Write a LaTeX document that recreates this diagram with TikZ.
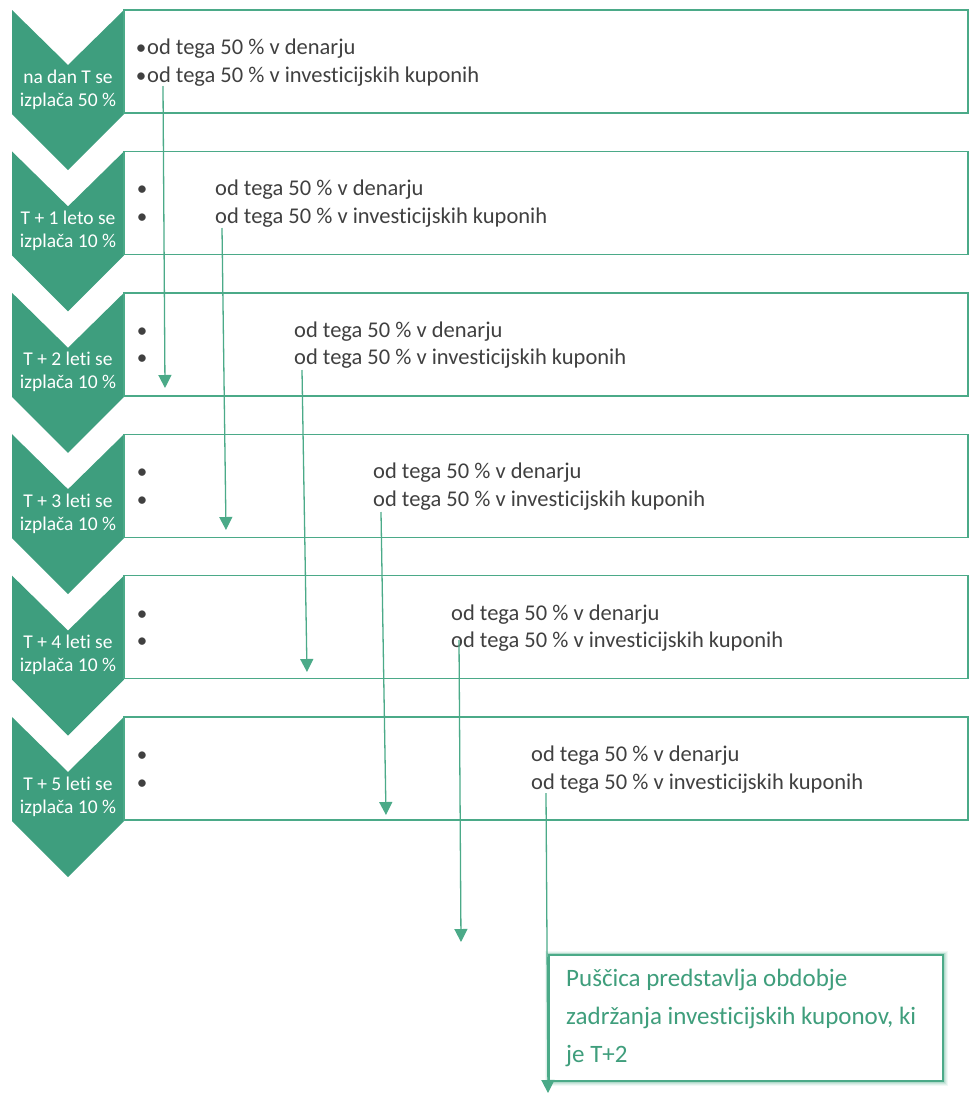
\documentclass[tikz,border=0pt]{standalone}
\usepackage{fontspec}
\setmainfont[Ligatures=NoCommon]{Carlito}
\usetikzlibrary{arrows.meta}
\definecolor{chev}{HTML}{3E9E7E}
\definecolor{gline}{HTML}{4BAA88}
\definecolor{txt}{HTML}{404040}
\definecolor{notegreen}{HTML}{3F9E7C}
\tikzset{
  chevshape/.style={fill=chev, draw=none},
  stagebox/.style={draw=gline, line width=1.4pt},
  chevtext/.style={text=white, font=\fontsize{19.5}{22}\selectfont, anchor=base, inner sep=0pt},
  itemtext/.style={text=txt, font=\fontsize{22.5}{26}\selectfont, anchor=base west, inner sep=0pt},
  bul/.style={text=txt, font=\fontsize{21}{24}\selectfont, anchor=base, inner sep=0pt},
  holdarrow/.style={draw=gline, line width=1.3pt, -{Triangle[width=13pt,length=13pt]}},
  notetext/.style={text=notegreen, font=\fontsize{25}{38}\selectfont, anchor=base west, inner sep=0pt}
}
\begin{document}
\begin{tikzpicture}[x=1pt,y=-1pt]
\path[use as bounding box] (0,0) rectangle (970,1093);
% stages
\foreach \i/\t/\la/\lb/\tx in {
  1/10/{na dan T se}/{izplača 50 \%}/147,
  2/151.4/{T + 1 leto se}/{izplača 10 \%}/215,
  3/292.8/{T + 2 leti se}/{izplača 10 \%}/294,
  4/434.2/{T + 3 leti se}/{izplača 10 \%}/373,
  5/575.6/{T + 4 leti se}/{izplača 10 \%}/451,
  6/717/{T + 5 leti se}/{izplača 10 \%}/531}{
  \fill[chevshape] (12,\t) -- (68,\t+55) -- (124,\t) -- (124,\t+104) -- (68,\t+160) -- (12,\t+104) -- cycle;
  \draw[stagebox] (124,\t) rectangle (968,\t+103);
  \node[chevtext] (cha\i) at (68,\t+73) {\la};
  \node[chevtext] (chb\i) at (68,\t+96) {\lb};
  \node[itemtext] (da\i) at (\tx,\t+44.5) {od tega 50 \% v denarju};
  \node[itemtext] (ku\i) at (\tx,\t+72) {od tega 50 \% v investicijskih kuponih};
}
% bullets
\node[bul] (b1a) at (141,44.5+10) {•};
\node[bul] (b1b) at (141,72+10) {•};
\foreach \i/\t in {2/151.4,3/292.8,4/434.2,5/575.6,6/717}{
  \node[bul] (b\i a) at (142,\t+44.5) {•};
  \node[bul] (b\i b) at (142,\t+72) {•};
}
% arrow endpoints
\coordinate (s1) at (163,86);  \coordinate (e1) at (165,388);
\coordinate (s2) at (222,228); \coordinate (e2) at (226,530);
\coordinate (s3) at (302,370); \coordinate (e3) at (307,672);
\coordinate (s4) at (381,512); \coordinate (e4) at (386,815);
\coordinate (s5) at (459,640); \coordinate (e5) at (461,942);
\coordinate (s6) at (546,793); \coordinate (e6) at (548,1093);
% note box with glow
\foreach \w/\o in {9/0.08,7/0.1,5/0.15,3.5/0.2}{
  \draw[gline, line width=\w pt, opacity=\o] (549,955) rectangle (943,1081);
}
\fill[white] (549,955) rectangle (943,1081);
\draw[gline, line width=1.6pt] (549,955) rectangle (943,1081);
\node[notetext] (note1) at (566,986) {Puščica predstavlja obdobje};
\node[notetext] (note2) at (566,1024) {zadržanja investicijskih kuponov, ki};
\node[notetext] (note3) at (566,1062) {je T+2};
\foreach \k in {1,...,6}{
  \draw[holdarrow] (s\k) -- (e\k);
}
\end{tikzpicture}
\end{document}
